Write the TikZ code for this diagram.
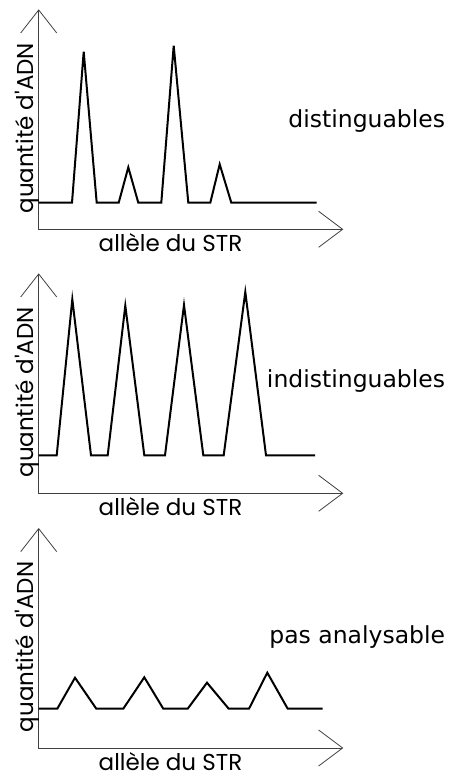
\documentclass[tikz,border=0pt]{standalone}
\usepackage{fontspec}
\newfontfamily\labelfont{DejaVu Sans}
\newfontfamily\axisfont{Poppins}
\usetikzlibrary{arrows.meta,positioning}

\begin{document}
\begin{tikzpicture}[x=1pt, y=-1pt,
    axis/.style={draw=black!75, line width=0.8pt, {Straight Barb[length=23pt,width=36pt]}-{Straight Barb[length=24pt,width=36pt]}},
    signal/.style={line width=2pt, line join=miter},
    axislabel/.style={font=\axisfont\fontsize{23}{26}\selectfont, inner sep=0pt, anchor=base},
    caselabel/.style={font=\labelfont\fontsize{23.5}{28}\selectfont, inner sep=0pt, anchor=base east}]
    \useasboundingbox (0,0) rectangle (458,774);

    % Axes and axis labels
    \foreach \yo/\nm in {229.3/a,493.3/b,748/c}{
        \coordinate (orig\nm) at (38.7,\yo);
        \draw[axis] (38.7,\yo-220) |- (343.3,\yo);
        \node[axislabel, rotate=90] (ylab\nm) at (33,\yo-101) {quantité d'ADN};
        \node[axislabel] (xlab\nm) at (170.5,\yo+22.5) {allèle du STR};
    }

    % Distinguishable peaks
    \draw[signal] (origa |- 0,202.7) -- (72,202.7) -- (83.7,51.7) -- (96.7,202.7) -- (118.7,202.7) -- (128.3,167.3) -- (138.3,202.7)
        -- (161.3,202.7) -- (173.7,45.7) -- (188.3,202.7) -- (210.3,202.7) -- (219.7,164.3) -- (231.3,202.7) -- (316.7,202.7);
    \node[caselabel] (casea) at (445.3,127.3) {distinguables};

    % Indistinguishable peaks
    \draw[signal] (origb |- 0,455.3) -- (56.7,455.3) -- (72.3,299.3) -- (91,455.3) -- (107.7,455.3) -- (125.3,305.7) -- (144.3,455.3)
        -- (165,455.3) -- (184,305) -- (203.3,455.3) -- (223.7,455.3) -- (245.3,292) -- (266,455.3) -- (315,455.3);
    \node[caselabel] (caseb) at (445.3,387.3) {indistinguables};

    % Peaks too low
    \draw[signal] (origc |- 0,708.7) -- (57.3,708.7) -- (75,677.7) -- (96.3,708.7) -- (123.3,708.7) -- (144.3,677.3) -- (163.3,708.7)
        -- (187.7,708.7) -- (207,682.7) -- (228.7,708.7) -- (249,708.7) -- (267.3,672.7) -- (287.7,708.7) -- (322.7,708.7);
    \node[caselabel] (casec) at (445.3,643.3) {pas analysable};
\end{tikzpicture}
\end{document}
